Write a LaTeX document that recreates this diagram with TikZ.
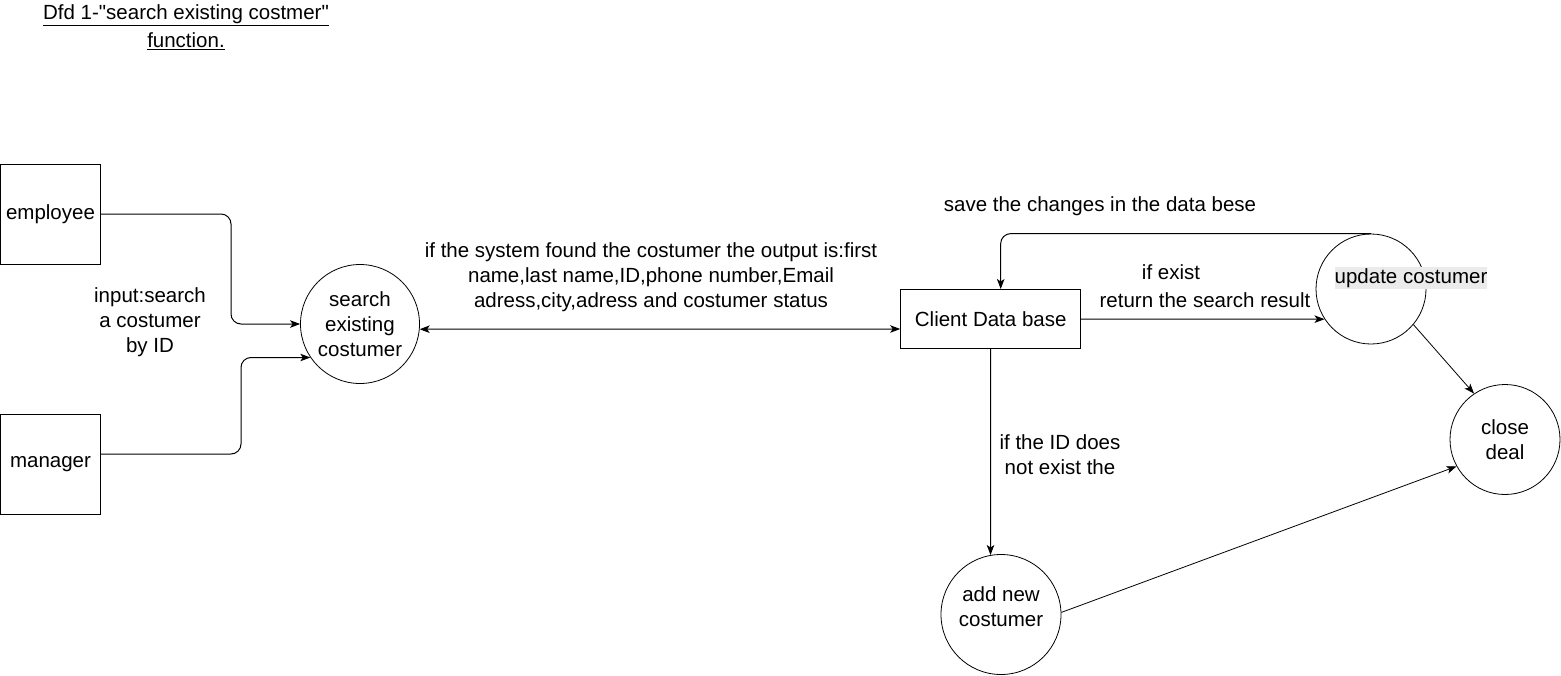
\documentclass[tikz,border=0pt]{standalone}
\usepackage{fontspec}
\setmainfont{Liberation Sans}
\usetikzlibrary{arrows.meta,calc}
\definecolor{hlgray}{RGB}{235,235,235}
\newcommand\straightquote{\XeTeXglyph\XeTeXcharglyph"22\relax}
\begin{document}
\begin{tikzpicture}[x=1pt,y=-1pt,
  font=\fontsize{20.5}{25}\selectfont,
  ent/.style={draw, line width=1pt, minimum width=100pt, minimum height=100pt, inner sep=0},
  proc/.style={draw, circle, line width=0.8pt, inner sep=0, align=center},
  store/.style={draw, line width=1pt, minimum width=180pt, minimum height=59pt, inner sep=0},
  txt/.style={align=center, inner sep=0},
  arr/.style={line width=1pt, -{Stealth[length=10pt,width=7.5pt,inset=2.5pt]}},
  thinarr/.style={line width=0.8pt, -{Stealth[length=10pt,width=7.5pt,inset=2.5pt]}},
]
\useasboundingbox (0,0) rectangle (1561,675);

% title
\node[txt] (t1) at (186,15) {\underline{Dfd 1-\straightquote search existing costmer\straightquote}};
\node[txt] (t2) at (186,41) {\underline{function.}};

% entities
\node[ent] (emp) at (50.5,214) {employee};
\node[ent] (man) at (50.5,464) {manager};

% processes
\node[proc, minimum size=119pt] (search) at (360,324) {search\\existing\\costumer};
\node[store] (client) at (990.7,319) {Client Data base};
\node[proc, minimum size=110pt] (update) at (1371,289) {};
\node[fill=hlgray, inner xsep=0pt, inner ysep=0pt, minimum height=22pt] (updt) at (1411,278) {update costumer};
\node[proc, minimum size=110pt] (close) at (1505,439.5) {close\\deal};
\node[proc, minimum size=120pt] (add) at (1001,614.5) {};
\node[txt] (addt) at (1001,607) {add new\\costumer};

% texts
\node[txt] (inp) at (150,322) {input:search\\a costumer\\by ID};
\node[txt] (out) at (651,277) {if the system found the costumer the output is:first\\name,last name,ID,phone number,Email\\adress,city,adress and costumer status};
\node[txt] (save) at (1100,206) {save the changes in the data bese};
\node[txt] (ifex) at (1171,272) {if exist};
\node[txt] (ret) at (1205,300) {return the search result};
\node[txt] (ifid) at (1060,455) {if the ID does\\not exist the};

% connectors
\draw[arr, rounded corners=10pt] (emp.east) -- ++(130,0) |- (search.west);
\draw[arr, rounded corners=10pt] ([yshift=10pt]man.east) -- ++(140,0) |- (search.214);
\draw[line width=1pt, {Stealth[length=10pt,width=7.5pt,inset=2.5pt]}-{Stealth[length=10pt,width=7.5pt,inset=2.5pt]}] (search.-5) -- ([yshift=-10pt]client.west);
\draw[arr] (client.east) -- (update.213);
\draw[arr, rounded corners=10pt] (update.north) -| ([xshift=10pt]client.north);
\draw[arr] (client.south) -- (add.100);
\draw[thinarr] (update.-40) -- (close.124);
\draw[thinarr] (add.2) -- (close.209);
\end{tikzpicture}
\end{document}
